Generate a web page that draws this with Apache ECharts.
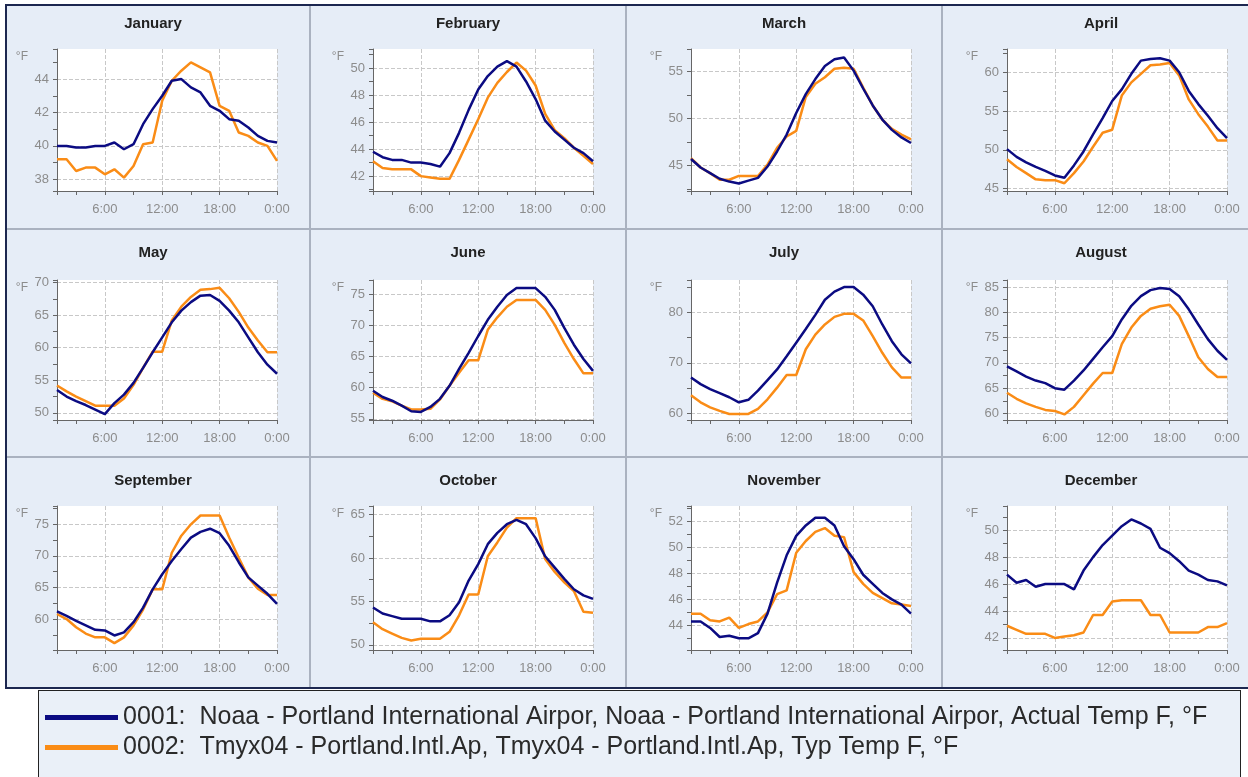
<!DOCTYPE html>
<html>
<head>
<meta charset="utf-8">
<title>Portland temperature by month</title>
<script src="https://cdn.jsdelivr.net/npm/echarts@6/dist/echarts.min.js"></script>
<style>
	html, body { margin: 0; padding: 0; background: #fff; overflow: hidden; }
	#frame { position: absolute; left: 5px; top: 4px; width: 1241px; height: 681px; background: #e6edf7;
		border-left: 2px solid #1c2750; border-top: 2px solid #1c2750; border-bottom: 2px solid #1c2750; }
	.vline { position: absolute; top: 6px; width: 2px; height: 681px; background: #aab2c0; }
	.hline { position: absolute; left: 7px; width: 1241px; height: 2px; background: #aab2c0; }
	#legendBox { position: absolute; left: 38px; top: 690px; width: 1201px; height: 86px; background: #eaf0f8; border: 1px solid #222; }
	#main { position: absolute; left: 0; top: 0; width: 1248px; height: 777px; }
</style>
</head>
<body>
<div id="frame"></div>
<div class="vline" style="left:309px"></div>
<div class="vline" style="left:625px"></div>
<div class="vline" style="left:941px"></div>
<div class="hline" style="top:228px"></div>
<div class="hline" style="top:456px"></div>
<div id="legendBox"></div>
<div id="main"></div>
<script>
// hours of the day (24 = 0:00)
var hours = [1, 2, 3, 4, 5, 6, 7, 8, 9, 10, 11, 12, 13, 14, 15, 16, 17, 18, 19, 20, 21, 22, 23, 24];
var monthNames = ['January', 'February', 'March', 'April', 'May', 'June',
	'July', 'August', 'September', 'October', 'November', 'December'];

var actualName = '0001:  Noaa - Portland International Airpor, Noaa - Portland International Airpor, Actual Temp F, °F';
var typicalName = '0002:  Tmyx04 - Portland.Intl.Ap, Tmyx04 - Portland.Intl.Ap, Typ Temp F, °F';

// actual (navy) and typical (orange) temps, °F
var janActual = [40.0, 40.0, 39.9, 39.9, 40.0, 40.0, 40.2, 39.8, 40.1, 41.3, 42.2, 43.0, 43.9, 44.0, 43.5, 43.2, 42.4, 42.1, 41.6, 41.5, 41.1, 40.6, 40.3, 40.2];
var janTypical = [39.2, 39.2, 38.5, 38.7, 38.7, 38.3, 38.6, 38.1, 38.8, 40.1, 40.2, 42.7, 43.9, 44.5, 45.0, 44.7, 44.4, 42.4, 42.1, 40.8, 40.6, 40.2, 40.0, 39.1];
var febActual = [43.8, 43.4, 43.2, 43.2, 43.0, 43.0, 42.9, 42.7, 43.7, 45.2, 46.9, 48.4, 49.4, 50.1, 50.5, 50.1, 49.0, 47.7, 46.1, 45.3, 44.7, 44.1, 43.7, 43.1];
var febTypical = [43.1, 42.6, 42.5, 42.5, 42.5, 42.0, 41.9, 41.8, 41.8, 43.2, 44.7, 46.2, 47.8, 48.9, 49.7, 50.4, 49.8, 48.7, 46.6, 45.4, 44.8, 44.1, 43.5, 42.9];
var marActual = [45.7, 44.8, 44.2, 43.6, 43.3, 43.1, 43.4, 43.7, 44.9, 46.5, 48.3, 50.6, 52.6, 54.2, 55.6, 56.3, 56.5, 55.1, 53.2, 51.4, 49.9, 48.8, 48.0, 47.4];
var marTypical = [45.8, 44.8, 44.2, 43.5, 43.5, 43.9, 43.9, 43.9, 45.1, 46.9, 48.1, 48.7, 52.3, 53.7, 54.4, 55.3, 55.4, 55.3, 53.3, 51.4, 49.9, 48.9, 48.3, 47.8];
var aprActual = [50.1, 49.1, 48.4, 47.8, 47.3, 46.7, 46.4, 48.0, 49.8, 52.0, 54.1, 56.3, 57.8, 59.8, 61.5, 61.7, 61.8, 61.5, 60.0, 57.6, 55.9, 54.4, 52.8, 51.5];
var aprTypical = [48.8, 47.8, 47.0, 46.2, 46.1, 46.1, 45.7, 47.0, 48.5, 50.4, 52.2, 52.6, 57.0, 58.7, 59.8, 60.9, 61.0, 61.2, 59.6, 56.5, 54.6, 53.0, 51.2, 51.2];
var mayActual = [53.5, 52.5, 51.8, 51.2, 50.5, 49.8, 51.5, 52.8, 54.6, 56.9, 59.3, 61.6, 63.9, 65.7, 67.0, 68.0, 68.1, 67.2, 65.7, 63.9, 61.6, 59.3, 57.4, 56.0];
var mayTypical = [54.2, 53.3, 52.5, 51.8, 51.1, 51.1, 51.1, 52.2, 54.3, 56.9, 59.4, 59.4, 64.2, 66.3, 67.8, 68.9, 69.0, 69.2, 67.6, 65.5, 63.1, 61.1, 59.3, 59.3];
var junActual = [59.5, 58.5, 57.9, 57.1, 56.2, 56.1, 56.9, 58.2, 60.3, 63.0, 65.6, 68.3, 70.9, 73.0, 74.9, 76.0, 76.0, 76.0, 74.6, 72.5, 69.6, 66.9, 64.6, 62.7];
var junTypical = [59.2, 58.2, 57.8, 57.1, 56.5, 56.5, 56.6, 58.1, 60.3, 62.4, 64.4, 64.4, 69.3, 71.3, 73.0, 74.1, 74.1, 74.1, 72.5, 70.1, 67.2, 64.6, 62.3, 62.3];
var julActual = [67.1, 65.8, 64.8, 64.0, 63.2, 62.2, 62.7, 64.5, 66.6, 68.7, 71.3, 74.0, 76.7, 79.5, 82.5, 84.1, 85.0, 85.0, 83.5, 81.2, 77.6, 74.3, 71.7, 69.9];
var julTypical = [63.6, 62.2, 61.2, 60.5, 59.9, 59.9, 59.9, 60.9, 62.8, 65.1, 67.6, 67.6, 72.7, 75.6, 77.6, 79.1, 79.7, 79.7, 78.4, 75.3, 72.0, 69.1, 67.1, 67.1];
var augActual = [69.3, 68.3, 67.3, 66.5, 66.0, 65.0, 64.7, 66.5, 68.5, 70.8, 73.1, 75.3, 78.6, 81.3, 83.2, 84.4, 84.8, 84.6, 83.2, 80.6, 77.6, 74.7, 72.4, 70.6];
var augTypical = [64.1, 62.9, 62.0, 61.3, 60.7, 60.5, 59.8, 61.3, 63.6, 65.9, 68.0, 68.0, 73.7, 77.0, 79.3, 80.7, 81.2, 81.5, 79.3, 75.3, 71.1, 68.8, 67.2, 67.2];
var sepActual = [61.2, 60.5, 59.7, 59.0, 58.3, 58.2, 57.4, 57.9, 59.5, 61.8, 64.7, 67.1, 69.2, 71.1, 72.9, 73.8, 74.3, 73.6, 71.6, 69.0, 66.6, 65.3, 64.0, 62.4];
var sepTypical = [60.8, 60.0, 58.7, 57.7, 57.1, 57.1, 56.2, 57.1, 59.0, 61.5, 64.7, 64.7, 70.5, 73.2, 75.0, 76.4, 76.4, 76.4, 72.9, 69.7, 66.6, 64.8, 63.8, 63.8];
var octActual = [54.3, 53.6, 53.3, 53.0, 53.0, 53.0, 52.7, 52.7, 53.4, 54.9, 57.4, 59.3, 61.6, 62.9, 63.9, 64.4, 63.9, 62.3, 60.2, 58.9, 57.6, 56.4, 55.7, 55.3];
var octTypical = [52.6, 51.8, 51.3, 50.8, 50.5, 50.7, 50.7, 50.7, 51.5, 53.4, 55.8, 55.8, 60.2, 61.8, 63.5, 64.6, 64.6, 64.6, 59.9, 58.4, 57.2, 56.2, 53.8, 53.7];
var novActual = [44.3, 44.3, 43.8, 43.1, 43.2, 43.0, 43.0, 43.4, 44.9, 47.3, 49.4, 50.9, 51.7, 52.3, 52.3, 51.7, 50.1, 49.1, 47.9, 47.2, 46.5, 46.0, 45.6, 44.9];
var novTypical = [44.9, 44.9, 44.4, 44.3, 44.6, 43.8, 44.1, 44.3, 45.0, 46.4, 46.7, 49.6, 50.5, 51.2, 51.5, 50.9, 50.8, 48.1, 47.2, 46.5, 46.1, 45.7, 45.6, 45.5];
var decActual = [46.7, 46.1, 46.3, 45.8, 46.0, 46.0, 46.0, 45.6, 47.0, 48.0, 48.9, 49.6, 50.3, 50.8, 50.5, 50.1, 48.7, 48.3, 47.7, 47.0, 46.7, 46.3, 46.2, 45.9];
var decTypical = [42.9, 42.6, 42.3, 42.3, 42.3, 42.0, 42.1, 42.2, 42.4, 43.7, 43.7, 44.7, 44.8, 44.8, 44.8, 43.7, 43.7, 42.4, 42.4, 42.4, 42.4, 42.8, 42.8, 43.1];

// y axis range and label step of each month
var yMin = [37.3, 40.9, 42.3, 44.7, 48.9, 54.8, 58.7, 58.7, 55.1, 49.4, 42.1, 41.1];
var yMax = [45.8, 51.4, 57.4, 63.0, 70.4, 77.3, 86.4, 86.4, 77.9, 66.0, 53.2, 51.8];
var yStep = [2, 2, 5, 5, 5, 5, 10, 5, 5, 5, 2, 2];

var actualList = [janActual, febActual, marActual, aprActual, mayActual, junActual,
	julActual, augActual, sepActual, octActual, novActual, decActual];
var typicalList = [janTypical, febTypical, marTypical, aprTypical, mayTypical, junTypical,
	julTypical, augTypical, sepTypical, octTypical, novTypical, decTypical];

// panel layout
var colLeft = [57, 373, 691, 1007];
var colTitle = [153, 468, 784, 1101];
var rowTop = [49, 280, 506];
var rowHeight = [142, 140, 144];
var rowTitle = [16, 245, 473];

var fontName = '"Liberation Sans", Arial, sans-serif';
var navy = '#0b0b82';
var orange = '#fa8c16';

function pairs(ys) {
	var out = [];
	for (var i = 0; i < hours.length; i++) {
		out.push([hours[i], ys[i]]);
	}
	return out;
}

var myChart = echarts.init(document.getElementById('main'));

var titles = [], grids = [], xAxes = [], yAxes = [], series = [];
for (var m = 0; m < 12; m++) {
	var c = m % 4;
	var r = Math.floor(m / 4);
	titles.push({
		text: monthNames[m],
		left: colTitle[c],
		top: rowTitle[r],
		textAlign: 'center',
		padding: 0,
		textStyle: { fontSize: 15, fontWeight: 'bold', color: '#222', fontFamily: fontName }
	});
	grids.push({
		left: colLeft[c],
		top: rowTop[r],
		width: 220,
		height: rowHeight[r],
		show: true,
		backgroundColor: '#fff',
		borderWidth: 0
	});
	xAxes.push({
		gridIndex: m,
		type: 'value',
		min: 1,
		max: 24,
		minInterval: 6,
		maxInterval: 6,
		axisLine: { show: true, lineStyle: { color: '#666' } },
		axisTick: { show: true, length: 4, lineStyle: { color: '#666' } },
		minorTick: { show: true, splitNumber: 2, length: 4, lineStyle: { color: '#666' } },
		axisLabel: {
			showMinLabel: false,
			showMaxLabel: true,
			margin: 12,
			color: '#8c8c8c',
			fontSize: 13,
			fontFamily: fontName,
			formatter: function (v) { return (v % 24) + ':00'; }
		},
		splitLine: { show: true, showMinLine: false, lineStyle: { color: '#c8c8c8', type: 'dashed' } }
	});
	yAxes.push({
		gridIndex: m,
		type: 'value',
		min: yMin[m],
		max: yMax[m],
		minInterval: yStep[m],
		maxInterval: yStep[m],
		name: '°F',
		nameLocation: 'end',
		nameGap: -8,
		nameMoveOverlap: false,
		nameTextStyle: {
			align: 'right',
			verticalAlign: 'middle',
			padding: [0, 29, 0, 0],
			color: '#8c8c8c',
			fontSize: 12,
			fontFamily: fontName
		},
		axisLine: { show: true, lineStyle: { color: '#666' } },
		axisTick: { show: true, length: 4, lineStyle: { color: '#666' } },
		minorTick: { show: true, splitNumber: 2, length: 4, lineStyle: { color: '#666' } },
		axisLabel: {
			showMinLabel: false,
			showMaxLabel: false,
			margin: 8,
			color: '#8c8c8c',
			fontSize: 13,
			fontFamily: fontName
		},
		splitLine: { show: true, showMinLine: false, showMaxLine: false, lineStyle: { color: '#c8c8c8', type: 'dashed' } }
	});
	series.push({
		name: typicalName,
		type: 'line',
		xAxisIndex: m,
		yAxisIndex: m,
		data: pairs(typicalList[m]),
		showSymbol: false,
		symbol: 'none',
		lineStyle: { width: 2.5, color: orange },
		itemStyle: { color: orange }
	});
	series.push({
		name: actualName,
		type: 'line',
		xAxisIndex: m,
		yAxisIndex: m,
		data: pairs(actualList[m]),
		showSymbol: false,
		symbol: 'none',
		lineStyle: { width: 2.5, color: navy },
		itemStyle: { color: navy }
	});
}

option = {
	animation: false,
	title: titles,
	grid: grids,
	xAxis: xAxes,
	yAxis: yAxes,
	legend: {
		data: [actualName, typicalName],
		orient: 'vertical',
		left: 45,
		top: 705,
		padding: 0,
		itemWidth: 73,
		itemHeight: 5,
		itemGap: 5,
		icon: 'rect',
		textStyle: { fontSize: 25, color: '#2a2a2a', fontFamily: fontName }
	},
	series: series
};

myChart.setOption(option);
</script>
</body>
</html>
